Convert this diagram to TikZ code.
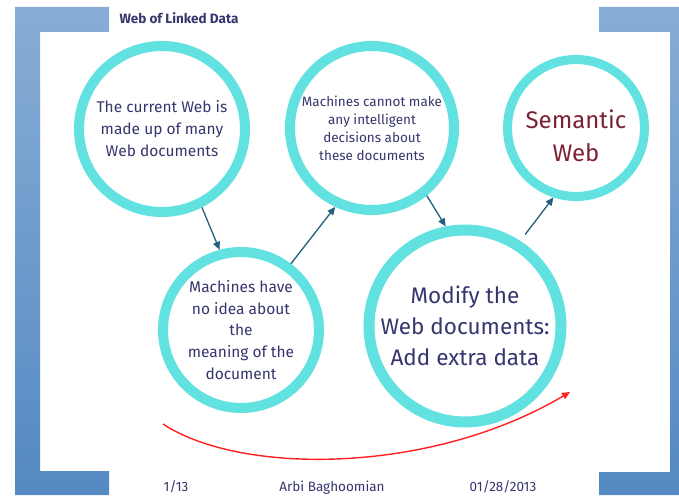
\documentclass[tikz,border=0pt]{standalone}
\usepackage{fontspec}
\setmainfont{Fira Sans}
\usetikzlibrary{arrows.meta}
\definecolor{navy}{HTML}{36366E}
\definecolor{ringc}{HTML}{62E1E1}
\definecolor{arrc}{HTML}{23607F}
\definecolor{semred}{HTML}{7B2235}
\definecolor{bartop}{RGB}{136,173,213}
\definecolor{barbot}{RGB}{84,137,194}
\definecolor{redarr}{RGB}{255,32,32}
\tikzset{
  ring/.style={circle, draw=ringc, inner sep=0pt, align=center, text=navy},
  link/.style={draw=arrc, line width=1.3pt, -{Triangle[length=8pt,width=7pt]}},
  bracket/.style={top color=bartop, bottom color=barbot, draw=none},
  foot/.style={text=navy, font=\fontsize{13.5}{15}\selectfont, anchor=base}
}
\begin{document}
\begin{tikzpicture}[x=1pt,y=-1pt]
\useasboundingbox[fill=white] (0,0) rectangle (679,495);
% corner brackets
\path[bracket] (15,7) -- (109,7) -- (109,32) -- (40,32) -- (40,471) -- (109,471) -- (109,495) -- (15,495) -- cycle;
\path[bracket] (599,7) -- (679,7) -- (679,495) -- (599,495) -- (599,472) -- (670,472) -- (670,32) -- (599,32) -- cycle;
% title
\node[text=navy, font=\bfseries\fontsize{13.5}{15}\selectfont, anchor=west] (title) at (116,18) {Web of Linked Data};
% circles
\node[ring, line width=10pt, minimum size=166pt, font=\fontsize{15.5}{22}\selectfont] (c1) at (162,129)
  {The current Web is\\made up of many\\Web documents};
\node[ring, line width=10pt, minimum size=164pt, font=\fontsize{13.5}{18}\selectfont] (c2) at (372,128)
  {Machines cannot make\\any intelligent\\decisions about\\these documents};
\node[ring, line width=9pt, minimum size=137pt] (c3) at (576,128) {};
\node[text=semred, align=center, font=\fontsize{24}{33}\selectfont] (c3t) at (576,136) {Semantic\\Web};
\node[ring, line width=10pt, minimum size=156pt, font=\fontsize{15.5}{21.7}\selectfont] (c4) at (241,330)
  {Machines have\\no idea about\\the\\meaning of the\\document};
\node[ring, line width=11pt, minimum size=192pt, font=\fontsize{22.5}{31}\selectfont] (c5) at (465,326)
  {Modify the\\Web documents:\\Add extra data};
% connectors
\draw[link] (c1.-63) -- (c4.105);
\draw[link] (c4.53) -- (c2.245);
\draw[link] (c2.-51) -- (c5.101);
\draw[link, shorten <=8pt] (c5.57) -- (c3.-108);
% red curved arrow
\coordinate (rs) at (163,424);
\coordinate (re) at (570,392);
\draw[redarr, line width=1.4pt, -{Triangle[length=8pt,width=7pt]}] (rs) .. controls (240,475) and (430,475) .. (re);
% footer
\node[foot] (f1) at (176,491) {1/13};
\node[foot] (f2) at (332,491) {Arbi Baghoomian};
\node[foot] (f3) at (503,491) {01/28/2013};
\end{tikzpicture}
\end{document}
